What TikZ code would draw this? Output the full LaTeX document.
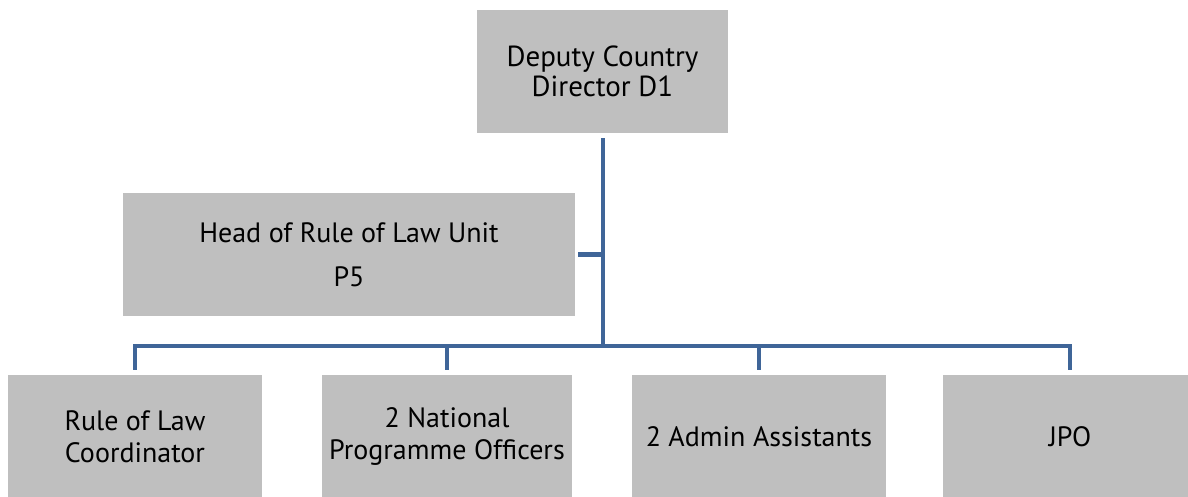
\documentclass[tikz,border=0pt]{standalone}
\usepackage{fontspec}
\setmainfont{PT Sans}
\definecolor{boxgray}{HTML}{BFBFBF}
\definecolor{linkblue}{HTML}{3F6598}
\tikzset{
  orgbox/.style={fill=boxgray, draw=none, inner sep=0pt, align=center,
    minimum height=123pt},
  conn/.style={draw=linkblue, line width=4.6pt, line cap=butt, line join=miter},
  toptext/.style={font=\fontsize{29}{30.5}\selectfont},
  headtext/.style={font=\fontsize{28}{44}\selectfont},
  lowtext/.style={font=\fontsize{28}{31.7}\selectfont},
}
\begin{document}
\begin{tikzpicture}[x=1pt, y=1pt]
  \clip (0,0) rectangle (1188,496);
  \fill[white] (0,0) rectangle (1188,496);

  % positions of the boxes
  \node[orgbox, toptext, minimum width=251pt] (dir) at (602.5,424.5)
    {Deputy Country\\Director D1};
  \node[orgbox, headtext, minimum width=452pt] (head) at (349,241.5)
    {Head of Rule of Law Unit\\P5};
  \node[orgbox, lowtext, minimum width=254pt] (c1) at (135,59.5)
    {Rule of Law\\Coordinator};
  \node[orgbox, lowtext, minimum width=250pt] (c2) at (447,59.5)
    {2 National\\Programme Officers};
  \node[orgbox, lowtext, minimum width=254pt] (c3) at (759,59.5)
    {2 Admin Assistants};
  \node[orgbox, lowtext, minimum width=254pt] (c4) at (1070,59.5)
    {JPO};

  % junction on the horizontal bus
  \coordinate (bus) at (603,150);

  % trunk from the director down to the bus
  \draw[conn] ([yshift=-5pt]dir.south -| bus) -- (bus);
  % side branch to the unit head
  \draw[conn] ([xshift=3pt]head.east) -- (head.east -| bus);
  % bus with drops to the four units
  \draw[conn] ([yshift=5pt]c1.north) -- (c1.north |- bus)
    -- (c4.north |- bus) -- ([yshift=5pt]c4.north);
  \draw[conn] (c2.north |- bus) -- ([yshift=5pt]c2.north);
  \draw[conn] (c3.north |- bus) -- ([yshift=5pt]c3.north);
\end{tikzpicture}
\end{document}
